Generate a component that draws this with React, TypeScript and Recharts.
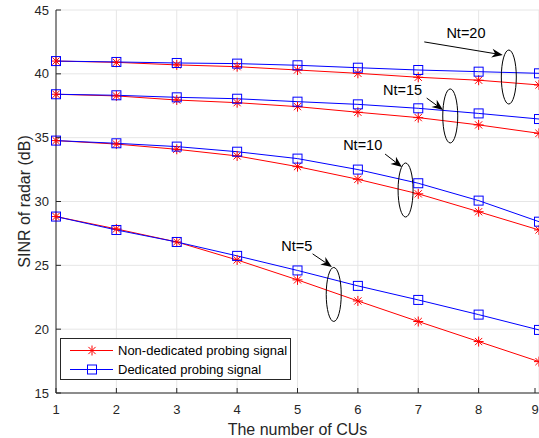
import React from 'react';
import {
  LineChart,
  Line,
  XAxis,
  YAxis,
  CartesianGrid,
  Legend,
  ReferenceLine,
  ReferenceDot,
} from 'recharts';

const cus = [1, 2, 3, 4, 5, 6, 7, 8, 9];

// Non-dedicated probing signal (red, *)
const nonDed5 = [28.82, 27.85, 26.83, 25.42, 23.86, 22.21, 20.6, 19.03, 17.46];
const nonDed10 = [34.77, 34.5, 34.09, 33.57, 32.73, 31.74, 30.6, 29.2, 27.77];
const nonDed15 = [38.4, 38.27, 37.95, 37.74, 37.43, 36.99, 36.57, 36.0, 35.34];
const nonDed20 = [41.0, 40.9, 40.7, 40.56, 40.3, 40.04, 39.73, 39.5, 39.13];

// Dedicated probing signal (blue, square)
const ded5 = [28.82, 27.77, 26.83, 25.74, 24.6, 23.39, 22.29, 21.14, 19.94];
const ded10 = [34.77, 34.56, 34.3, 33.9, 33.36, 32.5, 31.43, 30.07, 28.42];
const ded15 = [38.4, 38.32, 38.16, 38.05, 37.82, 37.61, 37.3, 36.9, 36.46];
const ded20 = [41.0, 40.93, 40.85, 40.8, 40.67, 40.48, 40.3, 40.17, 40.04];

const yTicks = [15, 20, 25, 30, 35, 40, 45];

// annotation: label, ellipse centre, arrow from -> to (data units)
const notes = [
  { label: 'Nt=20', text: [7.79, 43.2], ell: [8.5, 39.75], from: [7.1, 42.5], to: [8.4, 41.48] },
  { label: 'Nt=15', text: [6.74, 38.74], ell: [7.53, 36.7], from: [7.14, 38.1], to: [7.41, 37.17] },
  { label: 'Nt=10', text: [6.08, 34.43], ell: [6.79, 30.9], from: [6.45, 33.72], to: [6.73, 32.7] },
  { label: 'Nt=5', text: [4.99, 26.52], ell: [5.6, 22.72], from: [5.25, 25.9], to: [5.57, 24.87] },
];

const data = cus.map((n, i) => ({
  n,
  nd5: nonDed5[i],
  nd10: nonDed10[i],
  nd15: nonDed15[i],
  nd20: nonDed20[i],
  d5: ded5[i],
  d10: ded10[i],
  d15: ded15[i],
  d20: ded20[i],
}));

const FONT = 'Liberation Sans, Arial, Helvetica, sans-serif';
const AXIS = '#262626';
const RED = '#ff0000';
const BLUE = '#0000ff';

const Star = (props: any) => {
  const { cx, cy } = props;
  if (cx == null || cy == null) return null;
  const r = 5;
  const d = 3.6;
  return (
    <g stroke={RED} strokeWidth={1}>
      <line x1={cx - r} y1={cy} x2={cx + r} y2={cy} />
      <line x1={cx} y1={cy - r} x2={cx} y2={cy + r} />
      <line x1={cx - d} y1={cy - d} x2={cx + d} y2={cy + d} />
      <line x1={cx - d} y1={cy + d} x2={cx + d} y2={cy - d} />
    </g>
  );
};

const Square = (props: any) => {
  const { cx, cy } = props;
  if (cx == null || cy == null) return null;
  return <rect x={cx - 4.5} y={cy - 4.5} width={9} height={9} fill="none" stroke={BLUE} strokeWidth={1} />;
};

const XTick = (props: any) => {
  const { x, y, payload } = props;
  return (
    <g>
      <line x1={x} y1={y} x2={x} y2={y - 5} stroke={AXIS} />
      <text x={x} y={y + 21} textAnchor="middle" fontSize={13} fill={AXIS} fontFamily={FONT}>
        {payload.value}
      </text>
    </g>
  );
};

const TopTick = (props: any) => {
  const { x, y } = props;
  return <line x1={x} y1={y} x2={x} y2={y + 5} stroke={AXIS} />;
};

const YTick = (props: any) => {
  const { x, y, payload } = props;
  return (
    <g>
      <line x1={x} y1={y} x2={x + 5} y2={y} stroke={AXIS} />
      <text x={x - 7} y={y + 4.5} textAnchor="end" fontSize={13} fill={AXIS} fontFamily={FONT}>
        {payload.value}
      </text>
    </g>
  );
};

const Arrow = (props: any) => {
  const { x1, y1, x2, y2 } = props;
  if (x1 == null) return null;
  const ang = Math.atan2(y2 - y1, x2 - x1);
  const L = 11;
  const W = 4.5;
  const bx = x2 - L * Math.cos(ang);
  const by = y2 - L * Math.sin(ang);
  const nx = -Math.sin(ang);
  const ny = Math.cos(ang);
  const mx = x2 - L * 0.7 * Math.cos(ang);
  const my = y2 - L * 0.7 * Math.sin(ang);
  return (
    <g>
      <line x1={x1} y1={y1} x2={mx} y2={my} stroke="#000" strokeWidth={1} />
      <polygon
        points={`${x2},${y2} ${bx + nx * W},${by + ny * W} ${mx},${my} ${bx - nx * W},${by - ny * W}`}
        fill="#000"
      />
    </g>
  );
};

const LegendBox = () => (
  <div
    style={{
      width: 229,
      height: 40,
      border: `1px solid ${AXIS}`,
      background: '#fff',
      fontFamily: FONT,
      fontSize: 13,
      color: '#000',
      boxSizing: 'content-box',
    }}
  >
    {[
      { label: 'Non-dedicated probing signal', color: RED, mark: 'star' },
      { label: 'Dedicated probing signal', color: BLUE, mark: 'sq' },
    ].map((it, i) => (
      <div key={i} style={{ display: 'flex', alignItems: 'center', height: 19, marginTop: i === 0 ? 2 : 0 }}>
        <svg width={57} height={19} style={{ display: 'block' }}>
          <line x1={9} y1={9.5} x2={52} y2={9.5} stroke={it.color} />
          {it.mark === 'star' ? <Star cx={31} cy={9.5} /> : <Square cx={31} cy={9.5} />}
        </svg>
        <span style={{ whiteSpace: 'nowrap' }}>{it.label}</span>
      </div>
    ))}
  </div>
);

const series = [
  { key: 'nd5', color: RED, dot: Star },
  { key: 'nd10', color: RED, dot: Star },
  { key: 'nd15', color: RED, dot: Star },
  { key: 'nd20', color: RED, dot: Star },
  { key: 'd5', color: BLUE, dot: Square },
  { key: 'd10', color: BLUE, dot: Square },
  { key: 'd15', color: BLUE, dot: Square },
  { key: 'd20', color: BLUE, dot: Square },
];

export default function App() {
  return (
    <div style={{ position: 'absolute', left: 0, top: 0, width: 539, height: 438, background: '#fff' }}>
      <LineChart width={539} height={438} data={data} margin={{ top: 10, right: 0, bottom: 0, left: 0 }}>
        <CartesianGrid stroke="#e6e6e6" strokeWidth={1} />
        <XAxis
          dataKey="n"
          type="number"
          domain={[1, 9]}
          ticks={cus}
          stroke={AXIS}
          tickSize={0}
          tickMargin={0}
          tick={<XTick />}
          height={45}
          label={{ value: 'The number of CUs', position: 'insideBottom', offset: 3, fontSize: 16, fill: AXIS, fontFamily: FONT }}
        />
        <XAxis
          xAxisId="top"
          dataKey="n"
          type="number"
          orientation="top"
          domain={[1, 9]}
          ticks={cus}
          stroke={AXIS}
          tickSize={0}
          tickMargin={0}
          tick={<TopTick />}
          height={0}
        />
        <YAxis
          type="number"
          domain={[15, 45]}
          ticks={yTicks}
          stroke={AXIS}
          tickSize={0}
          tickMargin={0}
          tick={<YTick />}
          width={56}
          label={{ value: 'SINR of radar (dB)', angle: -90, position: 'insideLeft', offset: 24, fontSize: 16, fill: AXIS, fontFamily: FONT, style: { textAnchor: 'middle' } }}
        />
        {series.map((s) => {
          const D = s.dot;
          return (
            <Line
              key={s.key}
              dataKey={s.key}
              stroke={s.color}
              strokeWidth={1}
              dot={<D />}
              activeDot={false}
              isAnimationActive={false}
            />
          );
        })}
        {notes.map((nt) => (
          <ReferenceDot
            key={nt.label + 'e'}
            x={nt.ell[0]}
            y={nt.ell[1]}
            shape={(p: any) => <ellipse cx={p.cx} cy={p.cy} rx={7.5} ry={27} fill="none" stroke="#000" strokeWidth={1} />}
          />
        ))}
        {notes.map((nt) => (
          <ReferenceLine
            key={nt.label + 'a'}
            segment={[
              { x: nt.from[0], y: nt.from[1] },
              { x: nt.to[0], y: nt.to[1] },
            ]}
            shape={<Arrow />}
          />
        ))}
        {notes.map((nt) => (
          <ReferenceDot
            key={nt.label + 't'}
            x={nt.text[0]}
            y={nt.text[1]}
            shape={(p: any) => (
              <text x={p.cx} y={p.cy + 5} textAnchor="middle" fontSize={14.5} fill="#000" fontFamily={FONT}>
                {nt.label}
              </text>
            )}
          />
        ))}
        <Legend
          layout="vertical"
          align="center"
          verticalAlign="middle"
          content={<LegendBox />}
          wrapperStyle={{ position: 'absolute', left: 60, top: 338, width: 231, height: 42 }}
        />
      </LineChart>
    </div>
  );
}
